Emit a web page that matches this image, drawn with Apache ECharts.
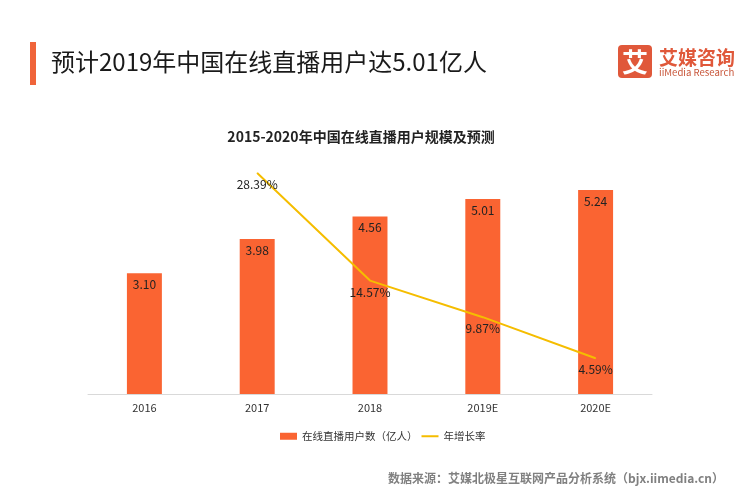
<!DOCTYPE html>
<html>
<head>
<meta charset="utf-8">
<script src="https://cdn.jsdelivr.net/npm/echarts@6/dist/echarts.min.js"></script>
<style>
html,body{margin:0;padding:0;background:#fff;}
#main{width:753px;height:490px;}
</style>
</head>
<body>
<div id="main"></div>
<script>
var categories = ['2016', '2017', '2018', '2019E', '2020E'];
var users = [3.10, 3.98, 4.56, 5.01, 5.24];
var growth = [null, 28.39, 14.57, 9.87, 4.59];
var seriesNames = ['在线直播用户数（亿人）', '年增长率'];
var headline = '预计2019年中国在线直播用户达5.01亿人';
var chartTitle = '2015-2020年中国在线直播用户规模及预测';
var sourceText = '数据来源：艾媒北极星互联网产品分析系统（bjx.iimedia.cn）';

var FONT = '"Noto Sans CJK SC", "Noto Sans", sans-serif';
var chart = echarts.init(document.getElementById('main'), null, {renderer: 'canvas'});
chart.setOption({
  backgroundColor: '#ffffff',
  animation: false,
  textStyle: {fontFamily: FONT},
  title: [
    {text: headline, left: 46, top: 45, textStyle: {fontFamily: FONT, fontSize: 24, fontWeight: 'normal', color: '#1a1a1a'}},
    {text: chartTitle, left: 356, textAlign: 'center', top: 125, textStyle: {fontFamily: FONT, fontSize: 14, fontWeight: 'bold', color: '#222'}}
  ],
  graphic: [
    {type: 'rect', shape: {x: 30, y: 42, width: 6, height: 43}, style: {fill: '#F0643A'}},
    {type: 'rect', shape: {x: 618, y: 45, width: 34, height: 33, r: 4}, style: {fill: '#E0583A'}},
    {type: 'text', x: 635, y: 62, style: {text: '艾', fill: '#fff', font: 'bold 26px ' + FONT, textAlign: 'center', textVerticalAlign: 'middle'}},
    {type: 'text', x: 659, y: 58, style: {text: '艾媒咨询', fill: '#E0583A', font: 'bold 19px ' + FONT, textAlign: 'left', textVerticalAlign: 'middle'}},
    {type: 'text', x: 659, y: 72.5, style: {text: 'iiMedia Research', fill: '#C8563A', font: '9.6px ' + FONT, textAlign: 'left', textVerticalAlign: 'middle'}},
    {type: 'text', x: 724, y: 478, style: {text: sourceText, fill: '#808080', font: 'bold 12px ' + FONT, textAlign: 'right', textVerticalAlign: 'middle'}}
  ],
  legend: {
    left: 275, top: 426,
    itemWidth: 17, itemHeight: 7, itemGap: 3,
    textStyle: {fontFamily: FONT, fontSize: 10.5, color: '#333', padding: [0, 0, 0, 0]},
    data: [
      {name: seriesNames[0], icon: 'rect'},
      {name: seriesNames[1], itemStyle: {opacity: 0}}
    ]
  },
  grid: {left: 88, right: 101, top: 160.5, bottom: 96, containLabel: false},
  xAxis: {
    type: 'category', data: categories,
    axisLine: {lineStyle: {color: '#d9d9d9', width: 1}},
    axisTick: {show: false},
    axisLabel: {fontFamily: FONT, fontSize: 11, color: '#333', margin: 8}
  },
  yAxis: [
    {type: 'value', min: 0, max: 6, show: false, splitLine: {show: false}},
    {type: 'value', min: 0, max: 30, show: false, splitLine: {show: false}}
  ],
  series: [
    {
      name: seriesNames[0], type: 'bar', data: users, barWidth: '31%',
      itemStyle: {color: '#FA6432'},
      label: {show: true, position: 'insideTop', distance: 5, fontFamily: FONT, fontSize: 12, color: '#222',
        formatter: function (p) { return p.value.toFixed(2); }}
    },
    {
      name: seriesNames[1], type: 'line', yAxisIndex: 1, data: growth,
      symbol: 'circle', symbolSize: 1, showSymbol: true,
      lineStyle: {color: '#F5BD00', width: 2},
      itemStyle: {color: '#F5BD00'},
      label: {show: true, position: 'bottom', distance: 5, fontFamily: FONT, fontSize: 12, color: '#222',
        formatter: function (p) { return p.value == null ? '' : p.value.toFixed(2) + '%'; }}
    }
  ]
});
</script>
</body>
</html>
